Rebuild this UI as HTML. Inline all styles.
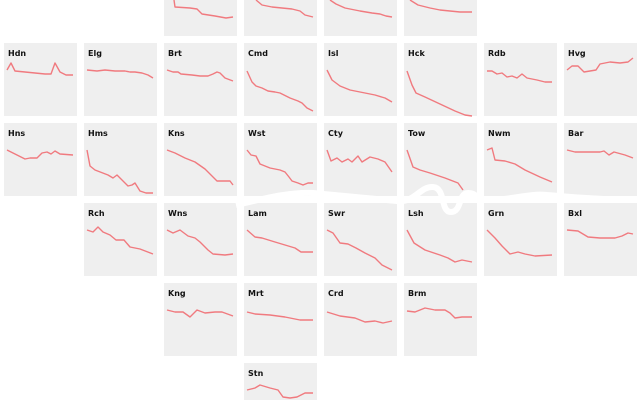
<!DOCTYPE html>
<html><head><meta charset="utf-8"><style>
html,body{margin:0;padding:0;background:#fff;width:640px;height:400px;overflow:hidden}
svg{display:block;overflow:hidden}
text{font-family:"DejaVu Sans","Liberation Sans",sans-serif;font-size:8px;font-weight:bold;fill:#111}
polyline{fill:none;stroke:#f07a7f;stroke-width:1.4;stroke-linejoin:round}
rect{fill:#efefef}
</style></head><body>
<svg width="640" height="400" viewBox="0 0 640 400">
<rect x="164" y="0" width="73" height="36"/><rect x="244" y="0" width="73" height="36"/>
<rect x="324" y="0" width="73" height="36"/><rect x="404" y="0" width="73" height="36"/>
<rect x="4" y="43" width="73" height="73"/><rect x="84" y="43" width="73" height="73"/>
<rect x="164" y="43" width="73" height="73"/><rect x="244" y="43" width="73" height="73"/>
<rect x="324" y="43" width="73" height="73"/><rect x="404" y="43" width="73" height="73"/>
<rect x="484" y="43" width="73" height="73"/><rect x="564" y="43" width="73" height="73"/>
<rect x="4" y="123" width="73" height="73"/><rect x="84" y="123" width="73" height="73"/>
<rect x="164" y="123" width="73" height="73"/><rect x="244" y="123" width="73" height="73"/>
<rect x="324" y="123" width="73" height="73"/><rect x="404" y="123" width="73" height="73"/>
<rect x="484" y="123" width="73" height="73"/><rect x="564" y="123" width="73" height="73"/>
<rect x="84" y="203" width="73" height="73"/><rect x="164" y="203" width="73" height="73"/>
<rect x="244" y="203" width="73" height="73"/><rect x="324" y="203" width="73" height="73"/>
<rect x="404" y="203" width="73" height="73"/><rect x="484" y="203" width="73" height="73"/>
<rect x="564" y="203" width="73" height="73"/>
<rect x="164" y="283" width="73" height="73"/><rect x="244" y="283" width="73" height="73"/>
<rect x="324" y="283" width="73" height="73"/><rect x="404" y="283" width="73" height="73"/>
<rect x="244" y="363" width="73" height="37"/>

<path d="M236,205 C260,200 285,192 313,193 L397,201 C415,203 420,186 433,187 C446,188 440,212 451,212 C462,212 458,193 468,193 C478,193 475,200 490,200 C510,200 530,193 547,195 C560,196 600,200 640,200" fill="none" stroke="#fff" stroke-width="6"/>

<text x="8" y="56">Hdn</text><text x="88" y="56">Elg</text><text x="168" y="56">Brt</text><text x="248" y="56">Cmd</text>
<text x="328" y="56">Isl</text><text x="408" y="56">Hck</text><text x="488" y="56">Rdb</text><text x="568" y="56">Hvg</text>
<text x="8" y="136">Hns</text><text x="88" y="136">Hms</text><text x="168" y="136">Kns</text><text x="248" y="136">Wst</text>
<text x="328" y="136">Cty</text><text x="408" y="136">Tow</text><text x="488" y="136">Nwm</text><text x="568" y="136">Bar</text>
<text x="88" y="216">Rch</text><text x="168" y="216">Wns</text><text x="248" y="216">Lam</text><text x="328" y="216">Swr</text>
<text x="408" y="216">Lsh</text><text x="488" y="216">Grn</text><text x="568" y="216">Bxl</text>
<text x="168" y="296">Kng</text><text x="248" y="296">Mrt</text><text x="328" y="296">Crd</text><text x="408" y="296">Brm</text>
<text x="248" y="376">Stn</text>

<polyline points="174,0 175,7 190,8 197,9 202,14 215,16 226,18 233,17"/>
<polyline points="256,0 262,5 272,7 282,8 292,9 300,11 305,15 313,17"/>
<polyline points="330,0 336,4 345,8 360,11 372,13 380,14 386,16 392,17"/>
<polyline points="410,0 418,5 430,8 440,10 450,11 460,12 472,12"/>
<polyline points="7,70 11,63 15,71 25,72 35,73 45,74 51,74 55,63 60,72 66,75 73,75"/>
<polyline points="87,70 97,71 105,70 115,71 125,71 130,72 135,72 142,73 148,75 153,78"/>
<polyline points="167,70 173,72 178,72 181,74 192,75 200,76 208,76 213,74 217,72 220,73 225,78 233,81"/>
<polyline points="247,71 252,82 256,86 262,88 268,91 275,92 280,93 290,98 298,101 302,103 307,108 313,111"/>
<polyline points="327,70 332,80 340,86 350,90 360,92 365,93 375,95 385,98 392,102"/>
<polyline points="407,71 412,85 416,93 425,97 440,104 455,111 465,115 472,116"/>
<polyline points="487,71 492,71 497,74 502,73 507,77 512,76 517,78 522,74 527,78 537,80 545,82 552,82"/>
<polyline points="567,70 572,66 578,66 584,72 590,71 596,70 600,64 610,62 620,63 628,62 633,58"/>
<polyline points="7,150 15,154 25,159 30,158 37,158 42,153 47,152 51,154 55,151 60,154 73,155"/>
<polyline points="87,150 90,166 95,170 108,175 113,178 117,175 122,180 128,186 132,185 135,183 140,191 146,193 153,193"/>
<polyline points="167,150 175,153 185,158 195,162 205,169 211,175 217,181 230,181 233,185"/>
<polyline points="247,150 251,155 256,156 260,164 270,168 280,170 285,172 289,177 292,181 298,183 303,185 308,183 313,183"/>
<polyline points="327,150 331,161 337,158 342,162 348,159 352,162 358,156 362,162 370,157 378,159 385,162 392,172"/>
<polyline points="407,150 413,167 420,170 430,173 445,178 458,183 463,190"/>
<polyline points="487,150 492,148 495,160 505,161 515,164 525,170 540,177 552,182"/>
<polyline points="567,150 575,152 590,152 600,152 604,151 609,155 614,152 625,155 633,158"/>
<polyline points="87,230 93,232 98,227 103,232 110,235 116,240 124,240 130,247 140,249 153,254"/>
<polyline points="167,230 173,233 180,230 188,236 195,238 200,242 208,250 213,254 225,255 233,254"/>
<polyline points="247,230 255,237 262,238 275,242 285,245 295,248 301,252 313,252"/>
<polyline points="327,230 333,233 340,243 348,244 356,248 365,253 375,258 382,265 392,270"/>
<polyline points="407,230 414,243 425,250 440,255 448,258 455,262 462,260 472,262"/>
<polyline points="487,230 495,238 502,246 510,254 518,252 525,254 535,256 552,255"/>
<polyline points="567,230 578,231 588,237 600,238 615,238 622,236 628,233 633,234"/>
<polyline points="167,310 175,312 183,312 190,317 197,310 205,313 215,312 222,312 233,316"/>
<polyline points="247,312 255,314 270,315 285,317 300,320 313,320"/>
<polyline points="327,312 340,316 355,318 365,322 375,321 383,323 392,321"/>
<polyline points="407,311 415,312 425,308 435,310 445,310 450,313 455,318 462,317 472,317"/>
<polyline points="247,390 255,388 260,385 270,388 278,390 283,397 290,398 297,397 305,393 313,393"/>
</svg>
</body></html>
